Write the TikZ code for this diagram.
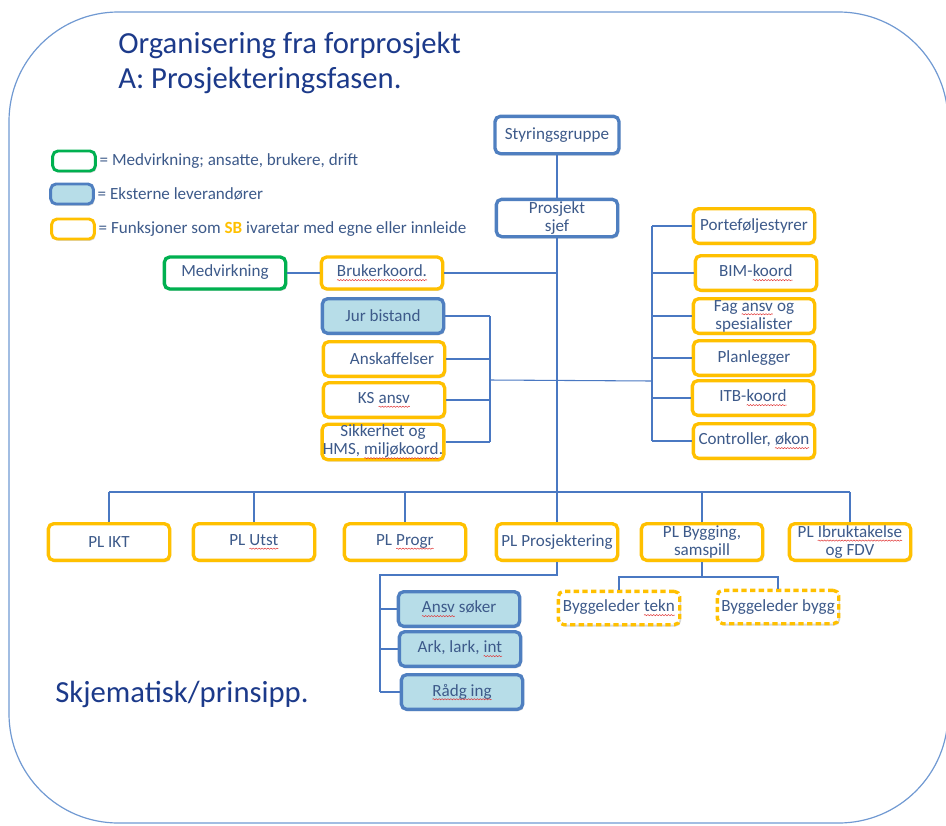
\documentclass[tikz,border=0pt]{standalone}
\usepackage{fontspec}
\setmainfont{Carlito}
\usetikzlibrary{shadows,decorations.pathmorphing}
\definecolor{orn}{HTML}{FFC000}
\definecolor{grn}{HTML}{00B050}
\definecolor{blu}{HTML}{4F7FC0}
\definecolor{lblu}{HTML}{B7DDE8}
\definecolor{linec}{HTML}{4A78C2}
\definecolor{txtc}{HTML}{3D5A8A}
\definecolor{titc}{HTML}{1C3A8A}
\definecolor{outc}{HTML}{7099D2}
\definecolor{wavered}{HTML}{E03030}
\newcommand\spl[1]{\tikz[baseline=(w.base)]{\node[inner sep=0pt, outer sep=0pt, draw=none, fill=none, minimum width=0pt, minimum height=0pt, text=txtc] (w) {#1};
  \draw[wavered, line width=0.35pt, sharp corners, decorate, decoration={snake, amplitude=0.45pt, segment length=2.2pt}] ([yshift=-2.4pt]w.base west) -- ([yshift=-2.4pt]w.base east);}}
\tikzset{
  box/.style={rounded corners=4pt, line width=2.5pt, minimum width=91pt, minimum height=26pt,
    inner sep=0.5pt, align=center, font=\fontsize{12.8}{13.6}\selectfont, text=txtc, fill=white,
    drop shadow={shadow xshift=1pt, shadow yshift=-1.4pt, opacity=0.3}},
  obox/.style={box, draw=orn},
  gbox/.style={box, draw=grn},
  wbox/.style={box, draw=blu},
  bbox/.style={box, draw=blu, fill=lblu},
  dbox/.style={obox, dash pattern=on 4pt off 2.5pt},
  legbox/.style={box, minimum width=32pt, minimum height=15pt, line width=2.2pt},
  legtxt/.style={anchor=west, inner sep=1pt, text=txtc, font=\fontsize{12.8}{13}\selectfont},
  conn/.style={draw=linec, line width=0.8pt},
  ttl/.style={anchor=base west, inner sep=0pt, text=titc, font=\fontsize{23}{25}\selectfont},
}
\begin{document}
\begin{tikzpicture}[x=0.75pt, y=-0.75pt]
\useasboundingbox (0,0) rectangle (946,825);
\draw[outc, line width=0.9pt, rounded corners=82pt] (9,12) rectangle (948,823);

% titles
\node[ttl] (t1) at (118,53) {Organisering fra forprosjekt};
\node[ttl] (t2) at (118,88) {A: Prosjekteringsfasen.};
\node[ttl] (t3) at (55,702) {Skjematisk/prinsipp.};

% legend
\node[legbox, draw=grn] (lg) at (74,161) {};
\node[legbox, draw=blu, fill=lblu] (lb) at (72,194) {};
\node[legbox, draw=orn] (lo) at (73,229) {};
\node[legtxt] (lgt) at ([xshift=1pt]lg.east) {= Medvirkning; ansatte, brukere, drift};
\node[legtxt] (lbt) at ([xshift=1pt]lb.east) {= Eksterne leverandører};
\node[legtxt] (lot) at ([xshift=1pt]lo.east) {= Funksjoner som \textcolor{orn}{\textbf{SB}} ivaretar med egne eller innleide};

% top
\node[wbox, minimum width=93pt, minimum height=28pt] (sty) at (557,135) {Styringsgruppe};
\node[wbox, minimum height=28pt] (sjef) at (557,218) {Prosjekt\\sjef};

% left group
\node[gbox, minimum height=24pt] (medv) at (225,273) {\raisebox{3pt}{Medvirkning}};
\node[obox, minimum height=24pt] (bruk) at (382,273) {\spl{Brukerkoord.}};
\node[bbox] (jur) at (383,316) {Jur bistand};
\node[obox] (ansk) at (384,359) {\hspace{12pt}Anskaffelser};
\node[obox] (ks) at (384,400) {KS \spl{ansv}};
\node[obox, minimum height=24pt] (sik) at (383,442) {Sikkerhet og\\HMS, \spl{miljøkoord}.};

% right group
\node[obox] (porte) at (754,226) {Porteføljestyrer};
\node[obox] (bim) at (756,273) {BIM-\spl{koord}};
\node[obox] (fag) at (754,316) {Fag \spl{ansv} og\\spesialister};
\node[obox] (plan) at (754,358) {Planlegger};
\node[obox] (itb) at (753,398) {ITB-\spl{koord}};
\node[obox] (contr) at (754,441) {Controller, \spl{økon}};

% PL row
\node[obox, minimum height=27.5pt] (ikt) at (109,542) {PL IKT};
\node[obox, minimum height=27.5pt] (utst) at (254,542) {\raisebox{2pt}{PL \spl{Utst}}};
\node[obox, minimum height=27.5pt] (progr) at (405,542) {\raisebox{2pt}{PL \spl{Progr}}};
\node[obox, minimum height=27.5pt] (pros) at (557,542) {PL Prosjektering};
\node[obox, minimum height=27.5pt] (bygg) at (702,542) {PL Bygging,\\samspill};
\node[obox, minimum height=27.5pt] (ibr) at (850,542) {PL \spl{Ibruktakelse}\\og FDV};

% lower
\node[bbox] (soker) at (459,609) {\spl{Ansv} søker};
\node[bbox] (ark) at (460,649) {Ark, lark, \spl{int}};
\node[bbox] (radg) at (462,692) {\spl{Rådg ing}};
\node[dbox, minimum height=25pt] (tekn) at (619,608) {Byggeleder \spl{tekn}};
\node[dbox, minimum height=25pt] (byggb) at (778,607) {Byggeleder bygg};

% connectors
\draw[conn] (sty.south) -- (sjef.north);
\draw[conn] (sjef.south) -- (pros.north);
\draw[conn] (medv.east) -- (bruk.west);
\draw[conn] (bruk.east) -- (bruk.east -| sjef.south);
\coordinate (LB) at (490,380);
\coordinate (RB) at (652,381);
\foreach \n in {jur,ansk,ks,sik} \draw[conn] (\n.east) -- (\n.east -| LB);
\draw[conn] (jur.east -| LB) -- (sik.east -| LB);
\draw[conn] (LB) -- (RB);
\foreach \n in {porte,bim,fag,plan,itb,contr} \draw[conn] (\n.west) -- (\n.west -| RB);
\draw[conn] (porte.west -| RB) -- (contr.west -| RB);
\coordinate (BUS) at (557,492);
\draw[conn] (ikt.north |- BUS) -- (ibr.north |- BUS);
\foreach \n in {ikt,utst,progr,bygg,ibr} \draw[conn] (\n.north) -- (\n.north |- BUS);
\coordinate (PB) at (380,575);
\draw[conn] (pros.south) |- (PB) -- (PB |- radg.west);
\foreach \n in {soker,ark,radg} \draw[conn] (\n.west) -- (\n.west -| PB);
\coordinate (GB) at (702,577);
\draw[conn] (bygg.south) -- (GB);
\draw[conn] (tekn.north) |- (GB) -| (byggb.north);
\end{tikzpicture}
\end{document}
